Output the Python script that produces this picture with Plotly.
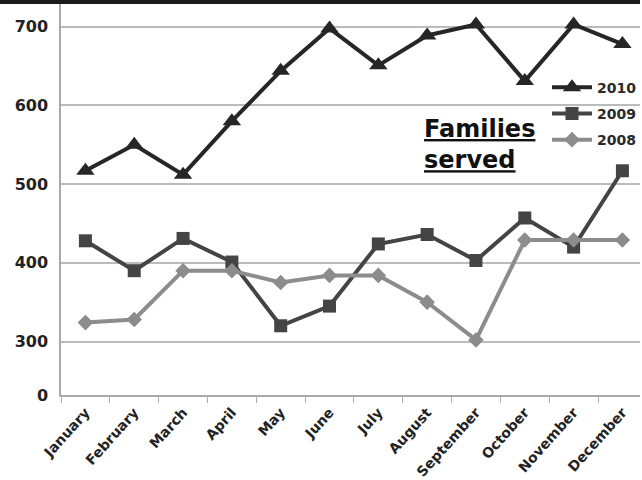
import plotly.graph_objects as go

months = ["January", "February", "March", "April", "May", "June", "July",
          "August", "September", "October", "November", "December"]
y2010 = [517, 550, 512, 580, 644, 698, 651, 689, 703, 631, 703, 678]
y2009 = [428, 390, 431, 401, 320, 345, 424, 436, 403, 457, 420, 517]
y2008 = [324, 328, 390, 390, 375, 384, 384, 350, 302, 429, 429, 429]
tick_vals = [232, 300, 400, 500, 600, 700]
tick_text = ["0", "300", "400", "500", "600", "700"]

FONT = "DejaVu Sans"

fig = go.Figure()
fig.add_trace(go.Scatter(x=months, y=y2010, name="<b>2010</b>", mode="lines+markers",
                         legendgroup="a",
                         line=dict(color="#262626", width=4),
                         marker=dict(symbol="triangle-up", size=16, color="#262626")))
fig.add_trace(go.Scatter(x=months, y=y2009, name="<b>2009</b>", mode="lines+markers",
                         legendgroup="b",
                         line=dict(color="#444444", width=4),
                         marker=dict(symbol="square", size=13, color="#444444")))
fig.add_trace(go.Scatter(x=months, y=y2008, name="<b>2008</b>", mode="lines+markers",
                         legendgroup="c",
                         line=dict(color="#8c8c8c", width=4),
                         marker=dict(symbol="diamond", size=12, color="#8c8c8c")))

fig.update_layout(
    width=642, height=480,
    margin=dict(l=61, r=0, t=4, b=83),
    paper_bgcolor="white", plot_bgcolor="white",
    font=dict(family=FONT, color="#2a2a2a"),
    showlegend=True,
    legend=dict(x=0.84, y=0.827, xanchor="left", yanchor="top",
                font=dict(size=14, family=FONT, color="#2a2a2a"),
                bgcolor="rgba(0,0,0,0)", traceorder="grouped", tracegroupgap=5,
                itemwidth=40),
    xaxis=dict(type="category", range=[-0.5, 11.36], showgrid=False,
               showline=True, linecolor="#aaaaaa", linewidth=1.5,
               ticks="outside", tickson="boundaries", ticklen=6, tickcolor="#aaaaaa",
               tickangle=-48, tickfont=dict(size=14, family=FONT, color="#222222"),
               ticklabelstandoff=2,
               tickprefix="<b>", ticksuffix="</b>"),
    yaxis=dict(range=[232, 729], tickvals=tick_vals, ticktext=["<b>%s</b>" % t for t in tick_text],
               showgrid=True, gridcolor="#bbbbbb", gridwidth=1.5,
               showline=True, linecolor="#aaaaaa", linewidth=1.5, zeroline=False,
               ticks="", tickfont=dict(size=16, family=FONT, color="#222222"), ticklabelstandoff=8),
    annotations=[dict(x=0.623, y=0.72, xref="paper", yref="paper", xanchor="left", yanchor="top",
                      align="left", showarrow=False,
                      text="<b><u>Families</u></b><br><b><u>served</u></b>",
                      font=dict(size=24, family=FONT, color="#111111"))],
    shapes=[dict(type="rect", xref="paper", yref="paper", x0=-0.2, x1=1.0, y0=1.0, y1=1.02,
                 fillcolor="#1a1a1a", line=dict(width=0), layer="above")],
)

fig.write_html("out.html", config={"displayModeBar": False},
               post_script="document.body.style.margin='0';")
